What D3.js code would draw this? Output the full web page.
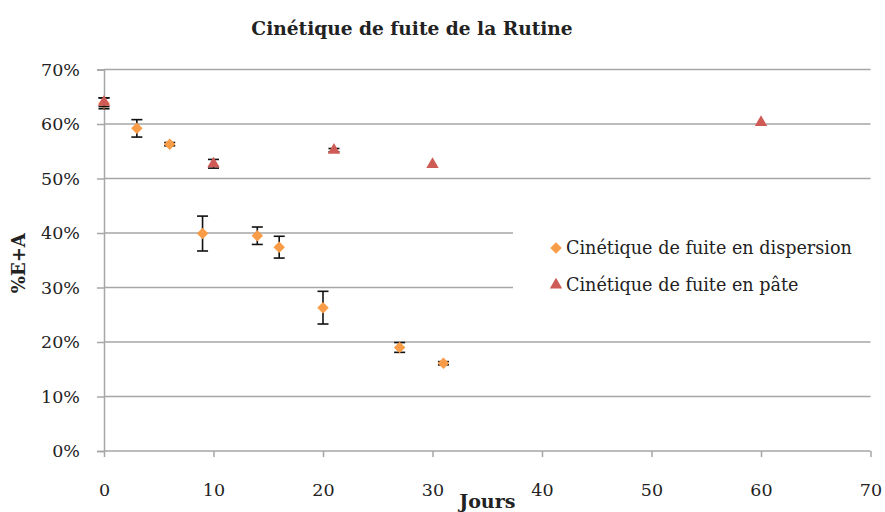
<!DOCTYPE html>
<html>
<head>
<meta charset="utf-8">
<script src="https://cdn.jsdelivr.net/npm/d3@7"></script>
<style>
  html, body { margin: 0; padding: 0; background: #fff; }
  svg { display: block; }
  text { font-family: "DejaVu Serif", "Liberation Serif", serif; fill: #222; }
</style>
</head>
<body>
<svg id="chart" width="885" height="512"></svg>
<script>
// Kinetics of rutin leakage: % E+A over days
const chartTitle = "Cinétique de fuite de la Rutine";
const xTitle = "Jours";
const yTitle = "%E+A";
const xTicks = [0, 10, 20, 30, 40, 50, 60, 70];
const yTicks = [0, 0.1, 0.2, 0.3, 0.4, 0.5, 0.6, 0.7];

const seriesNames = ["Cinétique de fuite en dispersion", "Cinétique de fuite en pâte"];

// dispersion: day, value, error (±)
const dispDays   = [0, 3, 6, 9, 14, 16, 20, 27, 31];
const dispValues = [0.638, 0.592, 0.563, 0.399, 0.395, 0.374, 0.263, 0.190, 0.161];
const dispErrors = [0.010, 0.016, 0.003, 0.032, 0.016, 0.020, 0.030, 0.009, 0.003];

// paste: day, value, error (±)
const pateDays   = [0, 10, 21, 30, 60];
const pateValues = [0.640, 0.527, 0.552, 0.526, 0.603];
const pateErrors = [0.008, 0.008, 0.003, 0, 0];

const colors = ["#F89C48", "#CF5B56"];

const svg = d3.select("#chart");
const margin = { left: 104, right: 885 - 870.5, top: 69.5, bottom: 512 - 451 };
const W = 885, H = 512;

const x = d3.scaleLinear().domain([0, 70]).range([margin.left, W - margin.right]);
const y = d3.scaleLinear().domain([0, 0.7]).range([H - margin.bottom, margin.top]);

// horizontal gridlines
svg.append("g")
  .selectAll("line")
  .data(yTicks.filter(d => d > 0))
  .join("line")
  .attr("x1", x(0)).attr("x2", x(70))
  .attr("y1", d => y(d)).attr("y2", d => y(d))
  .attr("stroke", "#A6A6A6").attr("stroke-width", 1.5);

// y axis
const yAxis = svg.append("g")
  .attr("transform", `translate(${x(0)},0)`)
  .call(d3.axisLeft(y).tickValues(yTicks).tickFormat(d3.format(".0%")).tickSize(7).tickPadding(17));
yAxis.select(".domain").attr("stroke", "#A6A6A6").attr("stroke-width", 1.5);
yAxis.selectAll(".tick line").attr("stroke", "#A6A6A6").attr("stroke-width", 1.5);
yAxis.selectAll("text").attr("font-size", 17.5).attr("fill", "#222")
  .attr("font-family", "DejaVu Serif");

// x axis
const xAxis = svg.append("g")
  .attr("transform", `translate(0,${y(0)})`)
  .call(d3.axisBottom(x).tickValues(xTicks).tickSize(6).tickPadding(27));
xAxis.select(".domain").attr("stroke", "#A6A6A6").attr("stroke-width", 1.5)
  .attr("d", `M${x(0)},0H${x(70)}`);
xAxis.selectAll(".tick line").attr("stroke", "#A6A6A6").attr("stroke-width", 1.5);
xAxis.selectAll("text").attr("font-size", 17.5).attr("fill", "#222")
  .attr("font-family", "DejaVu Serif");

// legend background covers the gridlines behind it
const legend = svg.append("g");
legend.append("rect")
  .attr("x", 513).attr("y", 212).attr("width", 372).attr("height", 100)
  .attr("fill", "#fff");

// error bars
function errorBars(days, values, errors) {
  const g = svg.append("g").attr("stroke", "#111").attr("stroke-width", 1.6);
  days.forEach((d, i) => {
    const e = errors[i];
    if (!e) return;
    const cx = x(d), y1 = y(values[i] + e), y2 = y(values[i] - e);
    g.append("line").attr("x1", cx).attr("x2", cx).attr("y1", y1).attr("y2", y2);
    g.append("line").attr("x1", cx - 5.5).attr("x2", cx + 5.5).attr("y1", y1).attr("y2", y1);
    g.append("line").attr("x1", cx - 5.5).attr("x2", cx + 5.5).attr("y1", y2).attr("y2", y2);
  });
}

const diamond = d3.symbol().type(d3.symbolSquare).size(66);
const triangle = d3.symbol().type(d3.symbolTriangle).size(66);

errorBars(dispDays, dispValues, dispErrors);
svg.append("g").selectAll("path")
  .data(dispDays.map((d, i) => [d, dispValues[i]]))
  .join("path")
  .attr("d", diamond)
  .attr("transform", d => `translate(${x(d[0])},${y(d[1])}) rotate(45)`)
  .attr("fill", colors[0]);

errorBars(pateDays, pateValues, pateErrors);
svg.append("g").selectAll("path")
  .data(pateDays.map((d, i) => [d, pateValues[i]]))
  .join("path")
  .attr("d", triangle)
  .attr("transform", d => `translate(${x(d[0])},${y(d[1])})`)
  .attr("fill", colors[1]);

// legend entries
const legendRows = [
  { name: seriesNames[0], shape: diamond, rot: 45, color: colors[0], cy: 248 },
  { name: seriesNames[1], shape: triangle, rot: 0, color: colors[1], cy: 285 }
];
legendRows.forEach(r => {
  legend.append("path")
    .attr("d", r.shape)
    .attr("transform", `translate(556,${r.cy}) rotate(${r.rot})`)
    .attr("fill", r.color);
  legend.append("text")
    .attr("x", 566).attr("y", r.cy + 6)
    .attr("font-size", 17.6)
    .text(r.name);
});

// titles
svg.append("text")
  .attr("x", 412).attr("y", 35)
  .attr("text-anchor", "middle")
  .attr("font-weight", "bold").attr("font-size", 18.6)
  .text(chartTitle);

svg.append("text")
  .attr("x", (x(0) + x(70)) / 2).attr("y", 508)
  .attr("text-anchor", "middle")
  .attr("font-weight", "bold").attr("font-size", 19)
  .text(xTitle);

svg.append("text")
  .attr("transform", `translate(25,${(y(0) + y(0.7)) / 2 + 3}) rotate(-90)`)
  .attr("text-anchor", "middle")
  .attr("font-weight", "bold").attr("font-size", 18)
  .text(yTitle);
</script>
</body>
</html>
